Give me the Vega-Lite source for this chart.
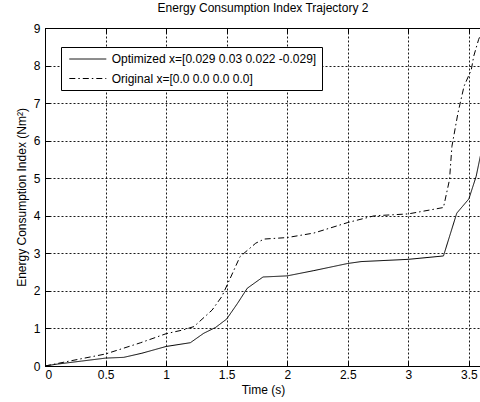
{
  "$schema": "https://vega.github.io/schema/vega-lite/v6.json",
  "width": 436,
  "height": 338,
  "autosize": {"type": "none"},
  "padding": {"left": 45, "top": 28, "right": 0, "bottom": 36},
  "background": "white",
  "title": {"text": "Energy Consumption Index Trajectory 2", "font": "Liberation Sans", "fontSize": 12, "fontWeight": "normal", "color": "#000", "anchor": "middle", "offset": 7},
  "config": {
    "view": {"stroke": "#000", "strokeWidth": 1},
    "axis": {
      "labelFont": "Liberation Sans", "labelFontSize": 12, "labelColor": "#000",
      "titleFont": "Liberation Sans", "titleFontSize": 12, "titleFontWeight": "normal", "titleColor": "#000",
      "domainColor": "#000", "tickColor": "#000", "gridColor": "#000", "gridDash": [2, 2], "gridOpacity": 0.9,
      "tickSize": -5
    },
    "legend": {
      "orient": "none", "legendX": 16, "legendY": 19, "fillColor": "white", "strokeColor": "#000",
      "padding": 5, "symbolType": "M-0.6,0H5.4", "symbolSize": 152, "symbolStrokeWidth": 1, "symbolStrokeColor": "#000",
      "labelFont": "Liberation Sans", "labelFontSize": 12, "labelColor": "#000", "labelLimit": 400,
      "rowPadding": 6.5, "labelOffset": 31.7
    }
  },
  "data": {"values": [
    {"series": "Optimized x=[0.029 0.03 0.022 -0.029]", "t": 0, "v": 0},
    {"series": "Optimized x=[0.029 0.03 0.022 -0.029]", "t": 0.1, "v": 0.05},
    {"series": "Optimized x=[0.029 0.03 0.022 -0.029]", "t": 0.3, "v": 0.13},
    {"series": "Optimized x=[0.029 0.03 0.022 -0.029]", "t": 0.5, "v": 0.21},
    {"series": "Optimized x=[0.029 0.03 0.022 -0.029]", "t": 0.65, "v": 0.23},
    {"series": "Optimized x=[0.029 0.03 0.022 -0.029]", "t": 0.8, "v": 0.34},
    {"series": "Optimized x=[0.029 0.03 0.022 -0.029]", "t": 1.0, "v": 0.52},
    {"series": "Optimized x=[0.029 0.03 0.022 -0.029]", "t": 1.2, "v": 0.62},
    {"series": "Optimized x=[0.029 0.03 0.022 -0.029]", "t": 1.31, "v": 0.87},
    {"series": "Optimized x=[0.029 0.03 0.022 -0.029]", "t": 1.41, "v": 1.03},
    {"series": "Optimized x=[0.029 0.03 0.022 -0.029]", "t": 1.5, "v": 1.25},
    {"series": "Optimized x=[0.029 0.03 0.022 -0.029]", "t": 1.59, "v": 1.67},
    {"series": "Optimized x=[0.029 0.03 0.022 -0.029]", "t": 1.67, "v": 2.07},
    {"series": "Optimized x=[0.029 0.03 0.022 -0.029]", "t": 1.8, "v": 2.37},
    {"series": "Optimized x=[0.029 0.03 0.022 -0.029]", "t": 2.0, "v": 2.4},
    {"series": "Optimized x=[0.029 0.03 0.022 -0.029]", "t": 2.22, "v": 2.54},
    {"series": "Optimized x=[0.029 0.03 0.022 -0.029]", "t": 2.5, "v": 2.73},
    {"series": "Optimized x=[0.029 0.03 0.022 -0.029]", "t": 2.61, "v": 2.78},
    {"series": "Optimized x=[0.029 0.03 0.022 -0.029]", "t": 3.0, "v": 2.84},
    {"series": "Optimized x=[0.029 0.03 0.022 -0.029]", "t": 3.29, "v": 2.93},
    {"series": "Optimized x=[0.029 0.03 0.022 -0.029]", "t": 3.4, "v": 4.07},
    {"series": "Optimized x=[0.029 0.03 0.022 -0.029]", "t": 3.5, "v": 4.45},
    {"series": "Optimized x=[0.029 0.03 0.022 -0.029]", "t": 3.56, "v": 5.05},
    {"series": "Optimized x=[0.029 0.03 0.022 -0.029]", "t": 3.6, "v": 5.67},
    {"series": "Original x=[0.0 0.0 0.0 0.0]", "t": 0, "v": 0},
    {"series": "Original x=[0.0 0.0 0.0 0.0]", "t": 0.2, "v": 0.13},
    {"series": "Original x=[0.0 0.0 0.0 0.0]", "t": 0.5, "v": 0.32},
    {"series": "Original x=[0.0 0.0 0.0 0.0]", "t": 0.79, "v": 0.62},
    {"series": "Original x=[0.0 0.0 0.0 0.0]", "t": 1.0, "v": 0.86},
    {"series": "Original x=[0.0 0.0 0.0 0.0]", "t": 1.14, "v": 0.96},
    {"series": "Original x=[0.0 0.0 0.0 0.0]", "t": 1.23, "v": 1.05},
    {"series": "Original x=[0.0 0.0 0.0 0.0]", "t": 1.38, "v": 1.49},
    {"series": "Original x=[0.0 0.0 0.0 0.0]", "t": 1.46, "v": 1.85},
    {"series": "Original x=[0.0 0.0 0.0 0.0]", "t": 1.53, "v": 2.34},
    {"series": "Original x=[0.0 0.0 0.0 0.0]", "t": 1.61, "v": 2.91},
    {"series": "Original x=[0.0 0.0 0.0 0.0]", "t": 1.74, "v": 3.27},
    {"series": "Original x=[0.0 0.0 0.0 0.0]", "t": 1.81, "v": 3.38},
    {"series": "Original x=[0.0 0.0 0.0 0.0]", "t": 2.0, "v": 3.42},
    {"series": "Original x=[0.0 0.0 0.0 0.0]", "t": 2.22, "v": 3.54},
    {"series": "Original x=[0.0 0.0 0.0 0.0]", "t": 2.5, "v": 3.82},
    {"series": "Original x=[0.0 0.0 0.0 0.0]", "t": 2.72, "v": 4.0},
    {"series": "Original x=[0.0 0.0 0.0 0.0]", "t": 3.0, "v": 4.05},
    {"series": "Original x=[0.0 0.0 0.0 0.0]", "t": 3.29, "v": 4.22},
    {"series": "Original x=[0.0 0.0 0.0 0.0]", "t": 3.34, "v": 4.96},
    {"series": "Original x=[0.0 0.0 0.0 0.0]", "t": 3.36, "v": 5.85},
    {"series": "Original x=[0.0 0.0 0.0 0.0]", "t": 3.41, "v": 6.74},
    {"series": "Original x=[0.0 0.0 0.0 0.0]", "t": 3.46, "v": 7.45},
    {"series": "Original x=[0.0 0.0 0.0 0.0]", "t": 3.52, "v": 7.89},
    {"series": "Original x=[0.0 0.0 0.0 0.0]", "t": 3.54, "v": 8.25},
    {"series": "Original x=[0.0 0.0 0.0 0.0]", "t": 3.58, "v": 8.69},
    {"series": "Original x=[0.0 0.0 0.0 0.0]", "t": 3.6, "v": 8.85}
  ]},
  "layer": [
    {
      "mark": {"type": "line", "color": "#000", "strokeWidth": 1, "clip": true},
      "encoding": {
        "x": {"field": "t", "type": "quantitative", "scale": {"domain": [0, 3.6], "nice": false},
              "axis": {"title": "Time (s)", "values": [0, 0.5, 1, 1.5, 2, 2.5, 3, 3.5], "format": "~g", "labelPadding": 8, "titlePadding": 4}},
        "y": {"field": "v", "type": "quantitative", "scale": {"domain": [0, 9], "nice": false},
              "axis": {"title": "Energy Consumption Index (Nm²)", "values": [0, 1, 2, 3, 4, 5, 6, 7, 8, 9], "labelPadding": 10, "titlePadding": 5}},
        "strokeDash": {"field": "series", "type": "nominal",
              "scale": {"domain": ["Optimized x=[0.029 0.03 0.022 -0.029]", "Original x=[0.0 0.0 0.0 0.0]"], "range": [[1, 0], [6, 3, 1.5, 3]]},
              "legend": {"title": null}},
        "order": {"field": "t", "type": "quantitative"}
      }
    },
    {
      "mark": {"type": "line", "opacity": 0, "clip": true},
      "encoding": {
        "x": {"field": "t", "type": "quantitative", "scale": {"domain": [0, 3.6], "nice": false},
              "axis": {"orient": "top", "title": null, "labels": false, "grid": false, "domain": false, "values": [0, 0.5, 1, 1.5, 2, 2.5, 3, 3.5]}},
        "y": {"field": "v", "type": "quantitative",
              "axis": {"title": "Energy Consumption Index (Nm²)", "values": [0, 1, 2, 3, 4, 5, 6, 7, 8, 9], "labelPadding": 10, "titlePadding": 5}}
      }
    }
  ],
  "resolve": {"axis": {"x": "independent"}}
}
